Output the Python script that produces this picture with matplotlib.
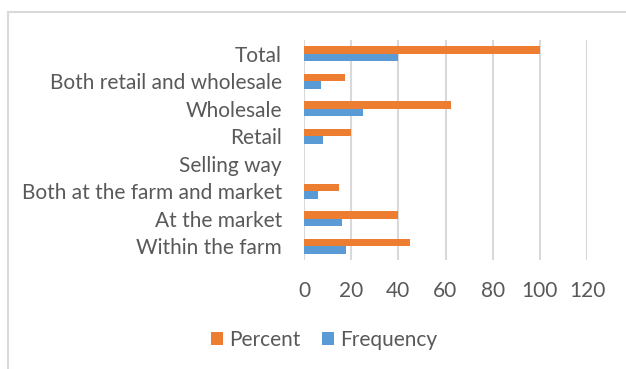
import numpy as np
import matplotlib
matplotlib.use("Agg")
import matplotlib.pyplot as plt
from matplotlib.patches import Rectangle

# selling channels, bottom to top as drawn
categories = ["Within the farm", "At the market", "Both at the farm and market",
              "Selling way", "Retail", "Wholesale", "Both retail and wholesale", "Total"]
percent = [45, 40, 15, np.nan, 20, 62.5, 17.5, 100]
frequency = [18, 16, 6, np.nan, 8, 25, 7, 40]
x_ticks = [0, 20, 40, 60, 80, 100, 120]

orange = "#ED7D31"
blue = "#5B9BD5"
text_gray = "#595959"
grid_gray = "#d9d9d9"

plt.rcParams['font.family'] = ['Lato', 'DejaVu Sans']

fig = plt.figure(figsize=(6.26, 3.69), dpi=100)
ax = fig.add_axes([304 / 626, 1 - 260 / 369, 283 / 626, 220 / 369])

y = np.arange(len(categories))
h = 0.27
ax.barh(y + h / 2, percent, height=h, color=orange, label="Percent", zorder=3)
ax.barh(y - h / 2, frequency, height=h, color=blue, label="Frequency", zorder=3)

ax.set_xlim(0, 120)
ax.set_ylim(-0.5, len(categories) - 0.5)
ax.set_xticks(x_ticks)
ax.set_yticks(y)
ax.set_yticklabels(categories)
ax.xaxis.grid(True, color=grid_gray, linewidth=1.5, zorder=0)
for s in ax.spines.values():
    s.set_visible(False)
ax.tick_params(axis="both", length=0, labelsize=15, colors=text_gray)
ax.tick_params(axis="y", pad=16)
ax.tick_params(axis="x", pad=15)

leg = fig.legend(loc="center", bbox_to_anchor=(324 / 626, 1 - 340 / 369), ncol=2,
                 frameon=False, fontsize=15, handlelength=0.6, handleheight=0.6,
                 handletextpad=0.3, columnspacing=1.0)
for t in leg.get_texts():
    t.set_color(text_gray)

# outer chart border
fig.patches.append(Rectangle((8 / 626, -0.05), 1.1, 1 - 12 / 369 + 0.05,
                             transform=fig.transFigure, fill=False,
                             edgecolor=grid_gray, linewidth=1.5))

fig.savefig("out.png", dpi=100)
